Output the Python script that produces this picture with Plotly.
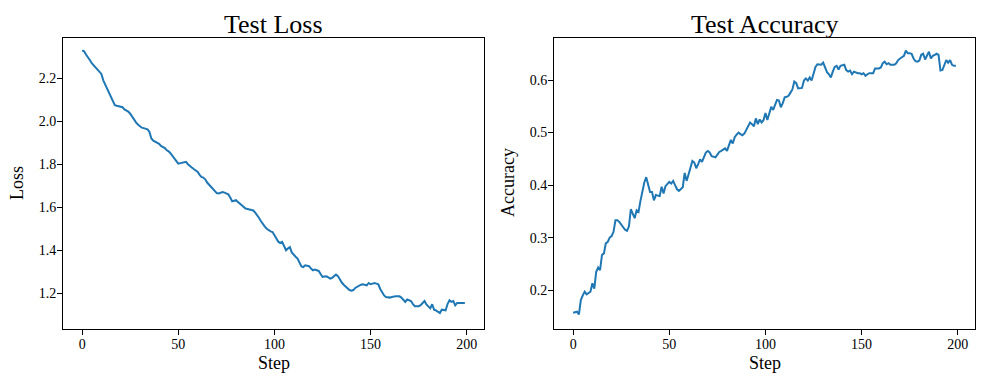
import plotly.graph_objects as go

steps = list(range(200))

test_loss = [
    2.33, 2.325, 2.31, 2.30, 2.285, 2.27, 2.26, 2.25, 2.245, 2.235,
    2.22, 2.19, 2.17, 2.15, 2.13, 2.11, 2.09, 2.075, 2.072, 2.07,
    2.07, 2.065, 2.055, 2.05, 2.045, 2.035, 2.02, 2.005, 1.995, 1.985,
    1.975, 1.97, 1.968, 1.966, 1.962, 1.95, 1.92, 1.91, 1.905, 1.90,
    1.895, 1.885, 1.88, 1.875, 1.865, 1.86, 1.85, 1.84, 1.83, 1.815,
    1.803, 1.805, 1.808, 1.81, 1.811, 1.80, 1.79, 1.785, 1.778, 1.772,
    1.765, 1.752, 1.741, 1.738, 1.73, 1.715, 1.705, 1.70, 1.69, 1.678,
    1.666, 1.664, 1.668, 1.671, 1.668, 1.664, 1.66, 1.645, 1.628, 1.63,
    1.633, 1.625, 1.617, 1.61, 1.598, 1.594, 1.592, 1.59, 1.59, 1.585,
    1.575, 1.565, 1.55, 1.535, 1.52, 1.51, 1.50, 1.493, 1.488, 1.485,
    1.47, 1.459, 1.44, 1.434, 1.439, 1.42, 1.40, 1.408, 1.415, 1.39,
    1.377, 1.37, 1.361, 1.345, 1.325, 1.322, 1.33, 1.328, 1.326, 1.315,
    1.307, 1.31, 1.308, 1.304, 1.29, 1.276, 1.278, 1.279, 1.274, 1.268,
    1.272, 1.278, 1.287, 1.28, 1.264, 1.25, 1.24, 1.23, 1.222, 1.215,
    1.212, 1.215, 1.225, 1.23, 1.236, 1.24, 1.242, 1.24, 1.237, 1.248,
    1.242, 1.245, 1.248, 1.245, 1.242, 1.22, 1.205, 1.19, 1.183, 1.181,
    1.18, 1.183, 1.186, 1.186, 1.186, 1.186, 1.18, 1.17, 1.16, 1.171,
    1.168, 1.164, 1.15, 1.14, 1.14, 1.14, 1.145, 1.155, 1.164, 1.148,
    1.137, 1.13, 1.149, 1.124, 1.12, 1.114, 1.108, 1.124, 1.122, 1.121,
    1.15, 1.167, 1.16, 1.164, 1.144, 1.155, 1.155, 1.155, 1.155, 1.155,
]

test_accuracy = [
    0.157, 0.158, 0.159, 0.154, 0.181, 0.19, 0.197, 0.192, 0.194, 0.197,
    0.213, 0.203, 0.235, 0.243, 0.238, 0.267, 0.27, 0.289, 0.292, 0.30,
    0.303, 0.311, 0.333, 0.333, 0.33, 0.325, 0.319, 0.315, 0.313, 0.321,
    0.354, 0.345, 0.337, 0.352, 0.349, 0.37, 0.39, 0.405, 0.415, 0.40,
    0.387, 0.387, 0.371, 0.381, 0.38, 0.379, 0.397, 0.384, 0.398, 0.403,
    0.406, 0.403, 0.408, 0.40, 0.392, 0.389, 0.393, 0.396, 0.423, 0.408,
    0.42, 0.435, 0.446, 0.443, 0.432, 0.44, 0.449, 0.444, 0.455, 0.462,
    0.465, 0.462, 0.455, 0.454, 0.453, 0.458, 0.463, 0.465, 0.467, 0.47,
    0.465, 0.475, 0.486, 0.479, 0.491, 0.496, 0.50, 0.497, 0.495, 0.498,
    0.505, 0.511, 0.519, 0.516, 0.512, 0.527, 0.516, 0.525, 0.519, 0.524,
    0.537, 0.524, 0.537, 0.549, 0.543, 0.553, 0.562, 0.561, 0.548, 0.556,
    0.567, 0.568, 0.57, 0.576, 0.582, 0.597, 0.594, 0.584, 0.584, 0.585,
    0.599, 0.603, 0.599, 0.605, 0.599, 0.615, 0.625, 0.63, 0.629, 0.629,
    0.633, 0.622, 0.615, 0.611, 0.605, 0.616, 0.625, 0.627, 0.62, 0.627,
    0.628, 0.629, 0.619, 0.616, 0.618, 0.611, 0.616, 0.614, 0.613, 0.613,
    0.611, 0.613, 0.608, 0.611, 0.613, 0.613, 0.613, 0.622, 0.622, 0.622,
    0.624, 0.632, 0.635, 0.63, 0.632, 0.629, 0.629, 0.629, 0.632, 0.638,
    0.641, 0.643, 0.646, 0.656, 0.651, 0.651, 0.65, 0.641, 0.636, 0.635,
    0.637, 0.648, 0.65, 0.639, 0.646, 0.654, 0.641, 0.646, 0.648, 0.65,
    0.648, 0.618, 0.619, 0.63, 0.638, 0.633, 0.638, 0.629, 0.627, 0.627,
]

loss_yticks = [1.2, 1.4, 1.6, 1.8, 2.0, 2.2]
acc_yticks = [0.2, 0.3, 0.4, 0.5, 0.6]
x_ticks = [0, 50, 100, 150, 200]

FONT = "Liberation Serif"
OFF = 8                      # page body margin of the browser
W, H = 984 - OFF, 384 - OFF
LINE = "#1f77b4"

# target positions in window pixels -> figure pixels
def fx(p):
    return p - OFF

def fy(p):
    return p - OFF

ML = fx(63)
MR = W - fx(975)
MT = fy(38)
MB = H - fy(329)
PW = W - ML - MR
PH = H - MT - MB

fig = go.Figure()
fig.add_trace(go.Scatter(x=steps, y=test_loss, mode="lines",
                         line=dict(color=LINE, width=2), xaxis="x", yaxis="y",
                         showlegend=False))
fig.add_trace(go.Scatter(x=steps, y=test_accuracy, mode="lines",
                         line=dict(color=LINE, width=2), xaxis="x2", yaxis="y2",
                         showlegend=False))

def dom(a, b):
    return [(fx(a) - ML) / PW, (fx(b) - ML) / PW]

axis_common = dict(
    showline=True, linecolor="black", linewidth=1, mirror=True,
    ticks="outside", ticklen=5, tickwidth=1, tickcolor="black",
    showgrid=False, zeroline=False, automargin=False,
    tickfont=dict(family=FONT, size=14, color="black"),
)

def ann(text, xpx, ypx, size, angle=0, yanchor="middle"):
    return dict(text=text, x=(fx(xpx) - ML) / PW, y=(H - fy(ypx) - MB) / PH,
                xref="paper", yref="paper", showarrow=False,
                xanchor="center", yanchor=yanchor, textangle=angle,
                font=dict(family=FONT, size=size, color="black"))

fig.update_layout(
    width=W, height=H,
    margin=dict(l=ML, r=MR, t=MT, b=MB, autoexpand=False),
    paper_bgcolor="white", plot_bgcolor="white",
    font=dict(family=FONT, color="black"),
    xaxis=dict(domain=dom(63, 484), range=[-9.95, 208.95], tickvals=x_ticks,
               anchor="y", ticklabelstandoff=-3, **axis_common),
    yaxis=dict(domain=[0, 1], range=[1.034, 2.387], tickvals=loss_yticks,
               tickformat=".1f", anchor="x", ticklabelstandoff=-2, **axis_common),
    xaxis2=dict(domain=dom(554, 975), range=[-9.95, 208.95], tickvals=x_ticks,
                anchor="y2", ticklabelstandoff=-3, **axis_common),
    yaxis2=dict(domain=[0, 1], range=[0.126, 0.68], tickvals=acc_yticks,
                tickformat=".1f", anchor="x2", ticklabelstandoff=-2, **axis_common),
    annotations=[
        ann("Test Loss", 273.5, 8.5, 26, yanchor="top"),
        ann("Test Accuracy", 764.5, 8.5, 26, yanchor="top"),
        ann("Step", 273.5, 363, 18),
        ann("Step", 764.5, 363, 18),
        ann("Loss", 17, 183, 18, -90),
        ann("Accuracy", 508, 183, 18, -90),
    ],
)

fig.write_html("out.html")
